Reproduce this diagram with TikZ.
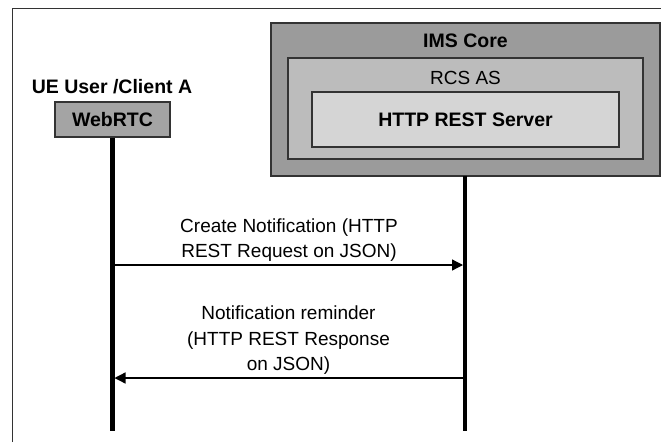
\documentclass[tikz,border=0pt]{standalone}
\usepackage{fontspec}
\setmainfont{Liberation Sans}
\usetikzlibrary{arrows.meta}
\definecolor{imsfill}{HTML}{9B9B9B}
\definecolor{rcsfill}{HTML}{BCBCBC}
\definecolor{httpfill}{HTML}{D5D5D5}
\definecolor{webfill}{HTML}{A4A4A4}
\definecolor{edge}{HTML}{333333}
\begin{document}
\begin{tikzpicture}[x=1pt,y=-1pt,
  box/.style={draw=edge, line width=1.3pt, inner sep=0pt, anchor=center},
  lbl/.style={inner sep=0pt, align=center, font=\fontsize{19}{25.5}\selectfont},
  blbl/.style={inner sep=0pt, align=center, font=\fontsize{19.5}{24}\selectfont\bfseries},
  life/.style={line width=4.3pt, black},
  msg/.style={line width=1.3pt, black, -{Triangle[length=11pt,width=11pt]}}]
\useasboundingbox (0,0) rectangle (661,442);
\fill[white] (0,0) rectangle (661,442);
% frame
\draw[edge, line width=1pt] (12.5,442) -- (12.5,8.5) -- (661,8.5);
% server boxes
\node[box, fill=imsfill, minimum width=389pt, minimum height=153pt] (ims) at (465.5,99.5) {};
\node[box, fill=rcsfill, minimum width=355pt, minimum height=101pt] (rcs) at (465.5,108.5) {};
\node[box, fill=httpfill, minimum width=307pt, minimum height=55pt] (http) at (465.5,119.5) {};
\node[blbl] (imst) at (465.5,40.5) {IMS Core};
\node[lbl] (rcst) at (465.5,77.5) {RCS AS};
\node[blbl] (httpt) at (465.5,120) {HTTP REST Server};
% client
\node[blbl] (uet) at (112,87) {UE User /Client A};
\node[box, fill=webfill, minimum width=115pt, minimum height=35pt, font=\fontsize{19.5}{24}\selectfont\bfseries] (web) at (112.5,119.5) {WebRTC};
% lifelines
\coordinate (lend) at (112.5,431);
\coordinate (rend) at (465,431);
\draw[life] (web.south) -- (lend);
\draw[life] (465,176) -- (rend);
% messages
\coordinate (m1s) at (114.5,265);
\coordinate (m1e) at (463,265);
\coordinate (m2s) at (463,378);
\coordinate (m2e) at (114.5,378);
\draw[msg] (m1s) -- (m1e);
\draw[msg] (m2s) -- (m2e);
\node[lbl] (t1) at (289,240) {Create Notification (HTTP\\REST Request on JSON)};
\node[lbl] (t2) at (288.5,340.5) {Notification reminder\\(HTTP REST Response\\on JSON)};
\end{tikzpicture}
\end{document}
